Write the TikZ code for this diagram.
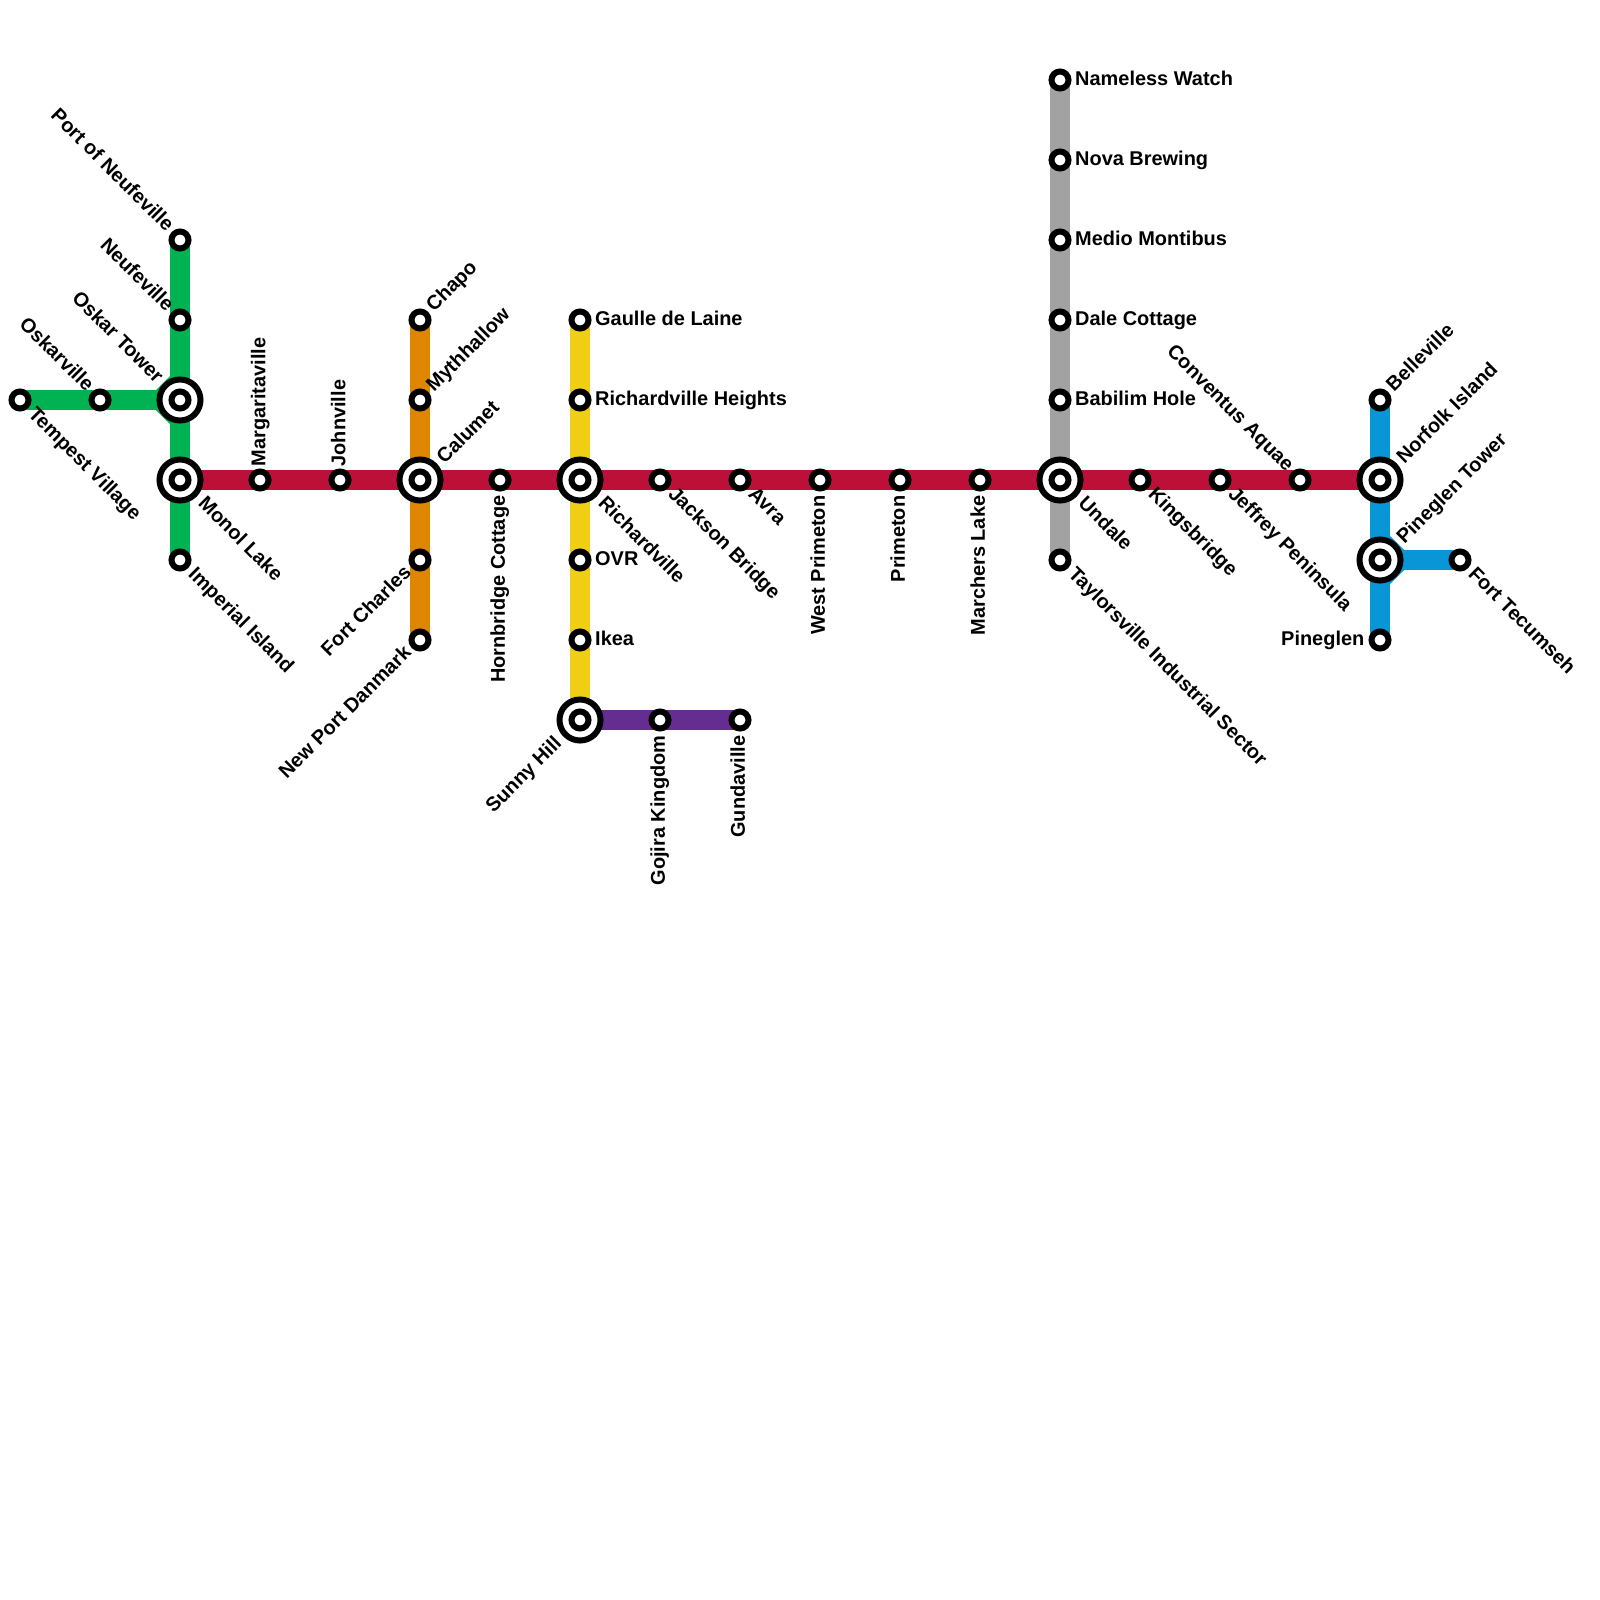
\documentclass[tikz,border=0pt]{standalone}
\usepackage{fontspec}
\setmainfont{Liberation Sans}
\usetikzlibrary{backgrounds}
\definecolor{metrogreen}{RGB}{0,178,81}
\definecolor{metrored}{RGB}{189,16,56}
\definecolor{metroorange}{RGB}{223,134,0}
\definecolor{metroyellow}{RGB}{240,206,21}
\definecolor{metropurple}{RGB}{102,45,145}
\definecolor{metrogray}{RGB}{162,162,162}
\definecolor{metroblue}{RGB}{8,150,215}
\tikzset{
  stop/.style={circle, draw=black, fill=white, line width=0.06cm, minimum size=0.17cm, inner sep=0pt},
  hub/.style={circle, draw=black, fill=white, line width=0.06cm, minimum size=0.41cm, inner sep=0pt},
  lbl/.style={inner sep=0pt, text height=0.145cm, text depth=0pt, font=\fontsize{5.67}{6}\selectfont\bfseries},
  lble/.style={lbl, anchor=west, shift={(14.5,-2)}},
  lblw/.style={lbl, anchor=east, shift={(-15,-2)}},
  lbln/.style={lbl, shift={(-2,-13)}, rotate=90, anchor=west},
  lbls/.style={lbl, shift={(-2.5,15)}, rotate=90, anchor=east},
  lblne/.style={lbl, shift={(8.5,-12)}, rotate=45, anchor=west},
  lblnw/.style={lbl, shift={(-8.5,-12)}, rotate=-45, anchor=east},
  lblse/.style={lbl, shift={(12,9.5)}, rotate=-45, anchor=west},
  lblsw/.style={lbl, shift={(-12.5,8.5)}, rotate=45, anchor=east},
  hubne/.style={lbl, shift={(19,-20)}, rotate=45, anchor=west},
  hubnw/.style={lbl, shift={(-19,-21)}, rotate=-45, anchor=east},
  hubse/.style={lbl, shift={(22,19)}, rotate=-45, anchor=west},
  hubsw/.style={lbl, shift={(-22,19)}, rotate=45, anchor=east},
}

\begin{document}
\begin{tikzpicture}[x=0.01cm, y=-0.01cm]
  \useasboundingbox (0,0) rectangle (1600,1600);
  % hubs
  \begin{scope}[every node/.style={hub}]
    \node (oskartower) at (180,400) {};
    \node (monol) at (180,480) {};
    \node (calumet) at (420,480) {};
    \node (richardville) at (580,480) {};
    \node (sunny) at (580,720) {};
    \node (undale) at (1060,480) {};
    \node (norfolk) at (1380,480) {};
    \node (pinetower) at (1380,560) {};
  \end{scope}
  % stops
  \begin{scope}[every node/.style={stop}]
    \node (port) at (180,240) {};
    \node (neufeville) at (180,320) {};
    \node (oskartowerin) at (180,400) {};
    \node (oskarville) at (100,400) {};
    \node (tempest) at (20,400) {};
    \node (monolin) at (180,480) {};
    \node (imperial) at (180,560) {};
    \node (margarita) at (260,480) {};
    \node (johnville) at (340,480) {};
    \node (calumetin) at (420,480) {};
    \node (hornbridge) at (500,480) {};
    \node (richardvillein) at (580,480) {};
    \node (jackson) at (660,480) {};
    \node (avra) at (740,480) {};
    \node (westprimeton) at (820,480) {};
    \node (primeton) at (900,480) {};
    \node (marchers) at (980,480) {};
    \node (undalein) at (1060,480) {};
    \node (kingsbridge) at (1140,480) {};
    \node (jeffrey) at (1220,480) {};
    \node (conventus) at (1300,480) {};
    \node (norfolkin) at (1380,480) {};
    \node (chapo) at (420,320) {};
    \node (mythhallow) at (420,400) {};
    \node (fortcharles) at (420,560) {};
    \node (newport) at (420,640) {};
    \node (gaulle) at (580,320) {};
    \node (heights) at (580,400) {};
    \node (ovr) at (580,560) {};
    \node (ikea) at (580,640) {};
    \node (sunnyin) at (580,720) {};
    \node (gojira) at (660,720) {};
    \node (gundaville) at (740,720) {};
    \node (nameless) at (1060,80) {};
    \node (nova) at (1060,160) {};
    \node (medio) at (1060,240) {};
    \node (dale) at (1060,320) {};
    \node (babilim) at (1060,400) {};
    \node (taylorsville) at (1060,560) {};
    \node (belleville) at (1380,400) {};
    \node (pinetowerin) at (1380,560) {};
    \node (pineglen) at (1380,640) {};
    \node (tecumseh) at (1460,560) {};
  \end{scope}
  % lines
  \begin{scope}[on background layer, every edge/.style={draw=metrogreen, line width=0.2cm, shorten <=-0.08cm, shorten >=-0.08cm}]
    \path (port) edge (neufeville);
    \path (neufeville) edge (oskartower);
    \path (oskartower) edge (monol);
    \path (monol) edge (imperial);
    \path (tempest) edge (oskarville);
    \path (oskarville) edge (oskartower);
    \fill[metrogreen] (170,376) -- (156,390) -- (156,410) -- (170,424) -- cycle;
  \end{scope}
  \begin{scope}[on background layer, every edge/.style={draw=metroorange, line width=0.2cm, shorten <=-0.08cm, shorten >=-0.08cm}]
    \path (chapo) edge (mythhallow);
    \path (mythhallow) edge (calumet);
    \path (calumet) edge (fortcharles);
    \path (fortcharles) edge (newport);
  \end{scope}
  \begin{scope}[on background layer, every edge/.style={draw=metroyellow, line width=0.2cm, shorten <=-0.08cm, shorten >=-0.08cm}]
    \path (gaulle) edge (heights);
    \path (heights) edge (richardville);
    \path (richardville) edge (ovr);
    \path (ovr) edge (ikea);
    \path (ikea) edge (sunny);
  \end{scope}
  \begin{scope}[on background layer, every edge/.style={draw=metropurple, line width=0.2cm, shorten <=-0.08cm, shorten >=-0.08cm}]
    \path (sunny) edge (gojira);
    \path (gojira) edge (gundaville);
  \end{scope}
  \begin{scope}[on background layer, every edge/.style={draw=metrogray, line width=0.2cm, shorten <=-0.08cm, shorten >=-0.08cm}]
    \path (nameless) edge (nova);
    \path (nova) edge (medio);
    \path (medio) edge (dale);
    \path (dale) edge (babilim);
    \path (babilim) edge (undale);
    \path (undale) edge (taylorsville);
  \end{scope}
  \begin{scope}[on background layer, every edge/.style={draw=metroblue, line width=0.2cm, shorten <=-0.08cm, shorten >=-0.08cm}]
    \path (belleville) edge (norfolk);
    \path (norfolk) edge (pinetower);
    \path (pinetower) edge (pineglen);
    \path (pinetower) edge (tecumseh);
    \fill[metroblue] (1390,536) -- (1404,550) -- (1404,570) -- (1390,584) -- cycle;
  \end{scope}
  \begin{scope}[on background layer, every edge/.style={draw=metrored, line width=0.2cm, shorten <=-0.08cm, shorten >=-0.08cm}]
    \path (monol) edge (margarita);
    \path (margarita) edge (johnville);
    \path (johnville) edge (calumet);
    \path (calumet) edge (hornbridge);
    \path (hornbridge) edge (richardville);
    \path (richardville) edge (jackson);
    \path (jackson) edge (avra);
    \path (avra) edge (westprimeton);
    \path (westprimeton) edge (primeton);
    \path (primeton) edge (marchers);
    \path (marchers) edge (undale);
    \path (undale) edge (kingsbridge);
    \path (kingsbridge) edge (jeffrey);
    \path (jeffrey) edge (conventus);
    \path (conventus) edge (norfolk);
  \end{scope}
  % labels
  \node[lblnw] (portlbl) at (port) {Port of Neufeville};
  \node[lblnw] (neufevillelbl) at (neufeville) {Neufeville};
  \node[hubnw] (oskartowerlbl) at (oskartower) {Oskar Tower};
  \node[lblnw] (oskarvillelbl) at (oskarville) {Oskarville};
  \node[lblse] (tempestlbl) at (tempest) {Tempest Village};
  \node[hubse] (monollbl) at (monol) {Monol Lake};
  \node[lblse] (imperiallbl) at (imperial) {Imperial Island};
  \node[lbln] (margaritalbl) at (margarita) {Margaritaville};
  \node[lbln] (johnvillelbl) at (johnville) {Johnville};
  \node[hubne] (calumetlbl) at (calumet) {Calumet};
  \node[lbls] (hornbridgelbl) at (hornbridge) {Hornbridge Cottage};
  \node[hubse] (richardvillelbl) at (richardville) {Richardville};
  \node[lblse] (jacksonlbl) at (jackson) {Jackson Bridge};
  \node[lblse] (avralbl) at (avra) {Avra};
  \node[lbls] (westprimetonlbl) at (westprimeton) {West Primeton};
  \node[lbls] (primetonlbl) at (primeton) {Primeton};
  \node[lbls] (marcherslbl) at (marchers) {Marchers Lake};
  \node[hubse] (undalelbl) at (undale) {Undale};
  \node[lblse] (kingsbridgelbl) at (kingsbridge) {Kingsbridge};
  \node[lblse] (jeffreylbl) at (jeffrey) {Jeffrey Peninsula};
  \node[lblnw] (conventuslbl) at (conventus) {Conventus Aquae};
  \node[hubne] (norfolklbl) at (norfolk) {Norfolk Island};
  \node[lblne] (chapolbl) at (chapo) {Chapo};
  \node[lblne] (mythhallowlbl) at (mythhallow) {Mythhallow};
  \node[lblsw] (fortcharleslbl) at (fortcharles) {Fort Charles};
  \node[lblsw] (newportlbl) at (newport) {New Port Danmark};
  \node[lble] (gaullelbl) at (gaulle) {Gaulle de Laine};
  \node[lble] (heightslbl) at (heights) {Richardville Heights};
  \node[lble] (ovrlbl) at (ovr) {OVR};
  \node[lble] (ikealbl) at (ikea) {Ikea};
  \node[hubsw] (sunnylbl) at (sunny) {Sunny Hill};
  \node[lbls] (gojiralbl) at (gojira) {Gojira Kingdom};
  \node[lbls] (gundavillelbl) at (gundaville) {Gundaville};
  \node[lble] (namelesslbl) at (nameless) {Nameless Watch};
  \node[lble] (novalbl) at (nova) {Nova Brewing};
  \node[lble] (mediolbl) at (medio) {Medio Montibus};
  \node[lble] (dalelbl) at (dale) {Dale Cottage};
  \node[lble] (babilimlbl) at (babilim) {Babilim Hole};
  \node[lblse] (taylorsvillelbl) at (taylorsville) {Taylorsville Industrial Sector};
  \node[lblne] (bellevillelbl) at (belleville) {Belleville};
  \node[hubne] (pinetowerlbl) at (pinetower) {Pineglen Tower};
  \node[lblw] (pineglenlbl) at (pineglen) {Pineglen};
  \node[lblse] (tecumsehlbl) at (tecumseh) {Fort Tecumseh};
\end{tikzpicture}
\end{document}
